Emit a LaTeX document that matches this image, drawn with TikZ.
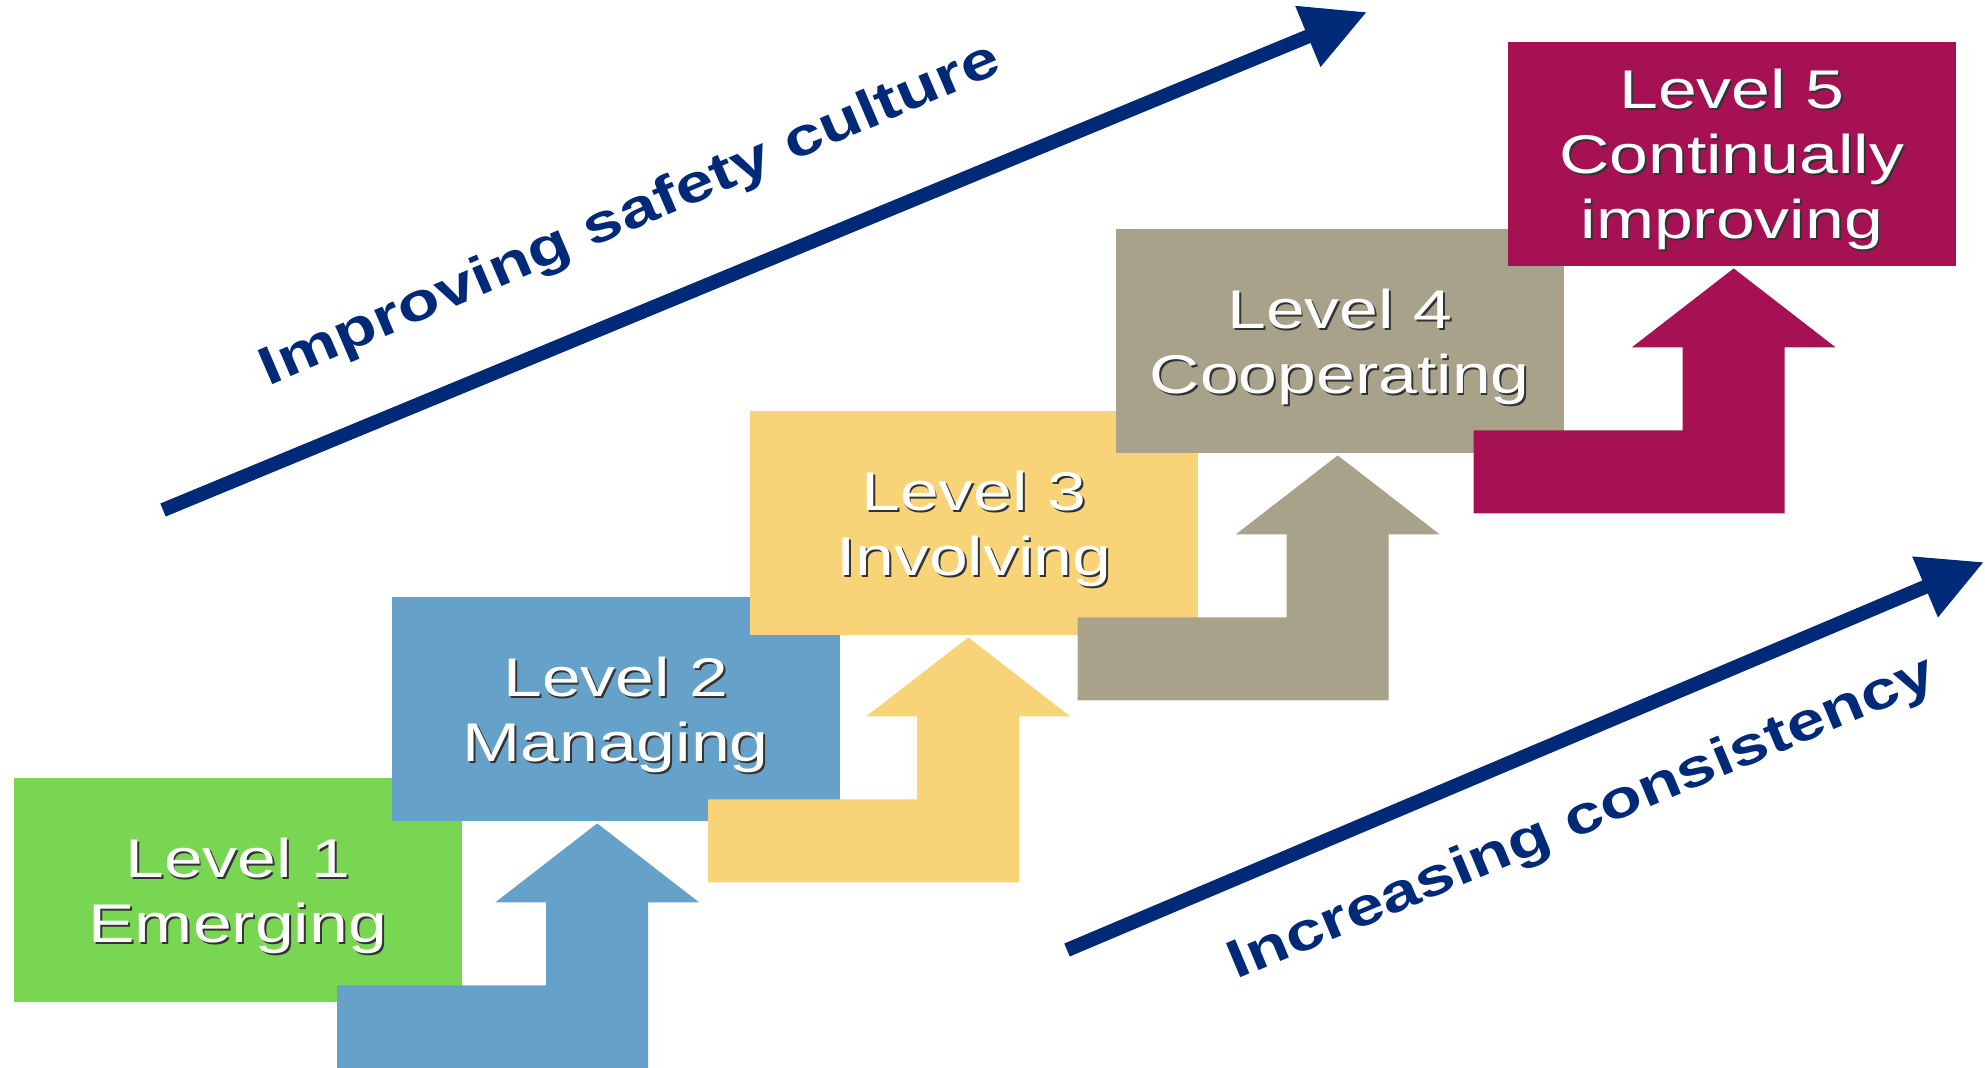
\documentclass[tikz,border=0pt]{standalone}
\usepackage{fontspec}
\setmainfont{Liberation Sans}
\newfontfamily\widefont[FakeStretch=1.28]{Liberation Sans}
\usetikzlibrary{arrows.meta}
\definecolor{lvgreen}{HTML}{78D652}
\definecolor{lvblue}{HTML}{66A1C9}
\definecolor{lvyellow}{HTML}{F9D377}
\definecolor{lvgray}{HTML}{A9A28B}
\definecolor{lvred}{HTML}{A51152}
\definecolor{navy}{HTML}{002A78}
\newcommand{\emb}[1]{\rlap{\kern0.55pt\raisebox{-0.55pt}{\color{black!80}#1}}#1}
\tikzset{
  level/.style={anchor=north west, minimum width=4.48cm, minimum height=2.24cm, inner sep=0pt},
  leveltext/.style={text=white, align=center, inner sep=0pt,
    font=\widefont\fontsize{15.5}{18.5}\selectfont},
  trend/.style={navy, line width=4pt, -{Triangle[length=0.64cm,width=0.62cm]}},
  trendlabel/.style={navy, anchor=base, font=\widefont\bfseries\fontsize{15.3}{18.5}\selectfont}
}
\begin{document}
\begin{tikzpicture}
\useasboundingbox (0,0) rectangle (19.85,-10.67);
% the five steps
\node[level, fill=lvgreen] (lev1) at (0.13,-7.77) {};
\node[level, fill=lvblue] (lev2) at (3.91,-5.96) {};
\node[level, fill=lvyellow] (lev3) at (7.49,-4.10) {};
\node[level, fill=lvgray] (lev4) at (11.15,-2.28) {};
\node[level, fill=lvred] (lev5) at (15.07,-0.41) {};
\node[leveltext] (txt1) at ([yshift=-0.07cm]lev1.center) {\emb{Level 1}\\\emb{Emerging}};
\node[leveltext] (txt2) at ([yshift=-0.07cm]lev2.center) {\emb{Level 2}\\\emb{Managing}};
\node[leveltext] (txt3) at ([yshift=-0.07cm]lev3.center) {\emb{Level 3}\\\emb{Involving}};
\node[leveltext] (txt4) at ([yshift=-0.07cm]lev4.center) {\emb{Level 4}\\\emb{Cooperating}};
\node[leveltext] (txt5) at ([yshift=-0.07cm]lev5.center) {\emb{Level 5}\\\emb{Continually}\\\emb{improving}};
% edit here for the bent arrows under each step
\foreach \n/\c/\dx in {2/lvblue/-0.185, 3/lvyellow/-0.055, 4/lvgray/-0.02, 5/lvred/0.02}
\fill[\c, shift={(lev\n.south)}, xshift=\dx cm, yshift=-0.02cm]
  (0,0) -- (1.02,-0.79) -- (0.51,-0.79) -- (0.51,-2.45) -- (-2.60,-2.45)
  -- (-2.60,-1.62) -- (-0.51,-1.62) -- (-0.51,-0.79) -- (-1.02,-0.79) -- cycle;
% the two trend arrows
\coordinate (up0) at (1.63,-5.10);
\coordinate (up1) at (13.67,-0.12);
\coordinate (low0) at (10.67,-9.50);
\coordinate (low1) at (19.84,-5.62);
\draw[trend] (up0) -- (up1);
\draw[trend] (low0) -- (low1);
\node[trendlabel, rotate=23.2] (culture) at (6.36,-2.29) {Improving safety culture};
\node[trendlabel, rotate=22.7] (consist) at (15.88,-8.33) {Increasing consistency};
\end{tikzpicture}
\end{document}
